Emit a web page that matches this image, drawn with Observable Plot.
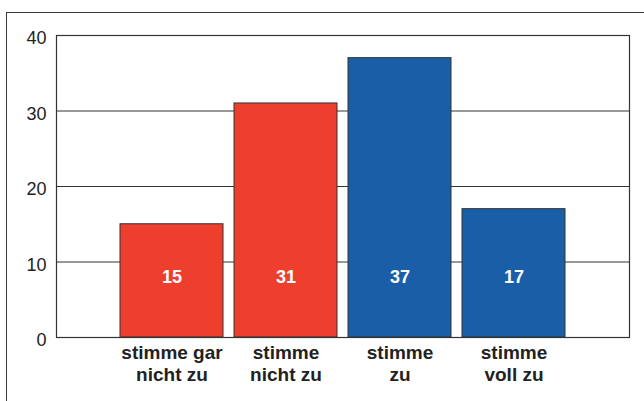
<!DOCTYPE html>
<html>
<head>
<meta charset="utf-8">
<script src="https://cdn.jsdelivr.net/npm/d3@7"></script>
<script src="https://cdn.jsdelivr.net/npm/@observablehq/plot@0.6"></script>
<style>
  html, body { margin: 0; padding: 0; background: #fff; }
  #wrap { position: relative; width: 644px; height: 401px; overflow: hidden; }
  #border { position: absolute; left: 6px; top: 12px; width: 700px; height: 500px; border: 1.5px solid #3a3a3a; box-sizing: border-box; }
  #chart { position: absolute; left: 0; top: 0; }
</style>
</head>
<body>
<div id="wrap"><div id="border"></div><div id="chart"></div></div>
<script>
const categories = ["stimme gar\nnicht zu", "stimme\nnicht zu", "stimme\nzu", "stimme\nvoll zu"];
const values = [15, 31, 37, 17];
const colors = ["#ee3e2e", "#ee3e2e", "#1b5ea8", "#1b5ea8"];
const yTicks = [0, 10, 20, 30, 40];

const data = categories.map((c, i) => ({cat: c, value: values[i], color: colors[i]}));

const chart = Plot.plot({
  width: 644,
  height: 401,
  marginLeft: 56,
  marginTop: 35,
  marginRight: 15,
  marginBottom: 64,
  style: {background: "transparent", fontFamily: "Liberation Sans, Arial, sans-serif"},
  x: {domain: categories, paddingInner: 0.1, paddingOuter: 0.55, label: null},
  y: {domain: [0, 40], ticks: yTicks, label: null},
  marks: [
    Plot.ruleY(yTicks, {stroke: "#333", strokeWidth: 1, strokeOpacity: 1}),
    Plot.barY(data, {x: "cat", y: "value", fill: "color", stroke: "#333", strokeWidth: 1}),
    Plot.text(data, {x: "cat", y: 0, text: d => String(d.value), dy: -60, fill: "white", fontWeight: "bold", fontSize: 18}),
    Plot.frame({stroke: "#333", strokeWidth: 1.2}),
    Plot.axisY({ticks: yTicks, tickSize: 0, tickPadding: 10, dy: 3, fontSize: 18, fill: "#222", label: null}),
    Plot.axisX({tickSize: 0, tickPadding: 5, fontSize: 19, fontWeight: "bold", fill: "#222", lineHeight: 1.2, label: null})
  ]
});
document.getElementById("chart").appendChild(chart);
</script>
</body>
</html>
